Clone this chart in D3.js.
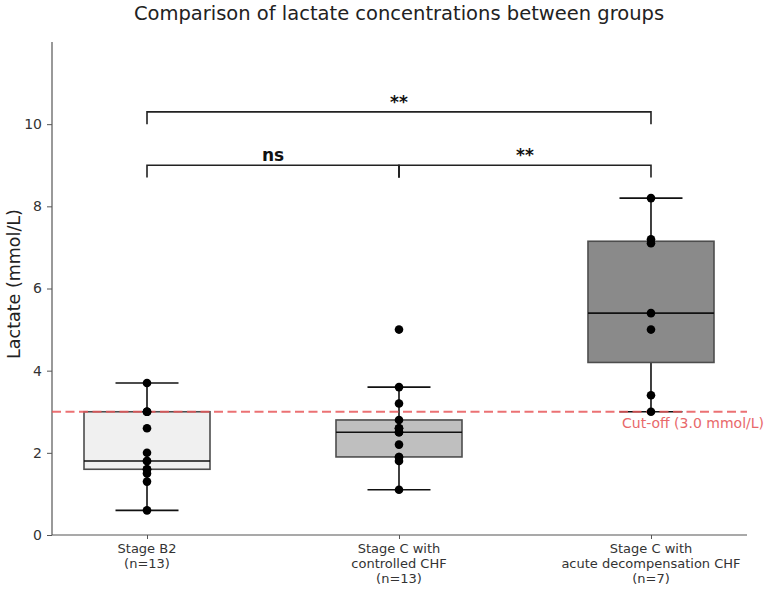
<!DOCTYPE html>
<html><head><meta charset="utf-8">
<script src="https://cdn.jsdelivr.net/npm/d3@7"></script>
<style>body{margin:0;background:#fff}svg{font-family:"DejaVu Sans",sans-serif}</style>
</head><body><svg id="c" width="767" height="590"></svg>
<script>
const categories = ["Stage B2", "Stage C with controlled CHF", "Stage C with acute decompensation CHF"];
const categoryLabels = [["Stage B2","(n=13)"],["Stage C with","controlled CHF","(n=13)"],["Stage C with","acute decompensation CHF","(n=7)"]];
const stageB2 = [0.6, 1.3, 1.5, 1.6, 1.6, 1.8, 1.8, 2.0, 2.6, 3.0, 3.0, 3.0, 3.7];
const stageCControlled = [1.1, 1.8, 1.9, 1.9, 2.2, 2.5, 2.5, 2.6, 2.6, 2.8, 3.2, 3.6, 5.0];
const stageCAcute = [3.0, 3.4, 5.0, 5.4, 7.1, 7.2, 8.2];
const boxColors = ["#f0f0f0", "#bfbfbf", "#8a8a8a"];
const yTicks = [0, 2, 4, 6, 8, 10];
const cutoff = 3.0;
const comparisons = [
  {from: 0, to: 1, y: 9.0, label: "ns", bold: true},
  {from: 1, to: 2, y: 9.0, label: "**", bold: false},
  {from: 0, to: 2, y: 10.3, label: "**", bold: false}
];

const groups = [stageB2, stageCControlled, stageCAcute];
const svg = d3.select("#c");
const x = d3.scaleLinear().domain([-0.377, 2.381]).range([52, 747]);
const y = d3.scaleLinear().domain([0, 12]).range([535, 42]);

// title
svg.append("text").attr("x", 399).attr("y", 20).attr("text-anchor", "middle")
  .attr("font-size", 19.5).attr("fill", "#222").text("Comparison of lactate concentrations between groups");

// axes
const yAxis = svg.append("g").attr("transform", "translate(52,0)")
  .call(d3.axisLeft(y).tickValues(yTicks).tickSize(5).tickPadding(5).tickFormat(d3.format("d")));
yAxis.select(".domain").attr("stroke", "#555").attr("stroke-width", 1.2).attr("d", `M0,${y(12)}V${y(0)}`);
yAxis.selectAll(".tick line").attr("stroke", "#555");
yAxis.selectAll(".tick text").attr("font-size", 14).attr("fill", "#333").attr("font-family", "DejaVu Sans");

const xAxis = svg.append("g").attr("transform", "translate(0,535)")
  .call(d3.axisBottom(x).tickValues([0, 1, 2]).tickSize(4).tickFormat(""));
xAxis.select(".domain").attr("stroke", "#555").attr("stroke-width", 1.2).attr("d", `M${x.range()[0]},0H${x.range()[1]}`);
xAxis.selectAll(".tick line").attr("stroke", "#555");
categoryLabels.forEach((lines, i) => {
  const t = svg.append("text").attr("x", x(i)).attr("y", 553).attr("text-anchor", "middle")
    .attr("font-size", 13).attr("fill", "#333");
  lines.forEach((l, j) => t.append("tspan").attr("x", x(i)).attr("dy", j === 0 ? 0 : 15).text(l));
});

svg.append("text").attr("transform", "translate(20,284) rotate(-90)").attr("text-anchor", "middle")
  .attr("font-size", 17.5).attr("fill", "#222").text("Lactate (mmol/L)");

// boxes
const boxHalf = 0.25, capHalf = 0.125;
groups.forEach((vals, i) => {
  const s = vals.slice().sort(d3.ascending);
  const q1 = d3.quantile(s, 0.25), med = d3.quantile(s, 0.5), q3 = d3.quantile(s, 0.75);
  const iqr = q3 - q1;
  const lo = d3.min(s.filter(v => v >= q1 - 1.5 * iqr));
  const hi = d3.max(s.filter(v => v <= q3 + 1.5 * iqr));
  const g = svg.append("g");
  g.append("line").attr("x1", x(i)).attr("x2", x(i)).attr("y1", y(q3)).attr("y2", y(hi)).attr("stroke", "#111").attr("stroke-width", 1.6);
  g.append("line").attr("x1", x(i)).attr("x2", x(i)).attr("y1", y(q1)).attr("y2", y(lo)).attr("stroke", "#111").attr("stroke-width", 1.6);
  g.append("line").attr("x1", x(i - capHalf)).attr("x2", x(i + capHalf)).attr("y1", y(hi)).attr("y2", y(hi)).attr("stroke", "#111").attr("stroke-width", 1.6);
  g.append("line").attr("x1", x(i - capHalf)).attr("x2", x(i + capHalf)).attr("y1", y(lo)).attr("y2", y(lo)).attr("stroke", "#111").attr("stroke-width", 1.6);
  g.append("rect").attr("x", x(i - boxHalf)).attr("width", x(i + boxHalf) - x(i - boxHalf))
    .attr("y", y(q3)).attr("height", y(q1) - y(q3)).attr("fill", boxColors[i]).attr("stroke", "#4d4d4d").attr("stroke-width", 1.6);
  g.append("line").attr("x1", x(i - boxHalf)).attr("x2", x(i + boxHalf)).attr("y1", y(med)).attr("y2", y(med)).attr("stroke", "#111").attr("stroke-width", 1.6);
});

// cutoff line
svg.append("line").attr("x1", x.range()[0]).attr("x2", x.range()[1]).attr("y1", y(cutoff)).attr("y2", y(cutoff))
  .attr("stroke", "#e8585a").attr("stroke-opacity", 0.85).attr("stroke-width", 2.2).attr("stroke-dasharray", "9,4.5");
svg.append("text").attr("x", 764).attr("y", y(cutoff) + 16).attr("text-anchor", "end")
  .attr("font-size", 14).attr("fill", "#e8686a").text("Cut-off (3.0 mmol/L)");

// points
groups.forEach((vals, i) => {
  svg.append("g").selectAll("circle").data(vals).join("circle")
    .attr("cx", x(i)).attr("cy", d => y(d)).attr("r", 4.3).attr("fill", "#000");
});

// significance brackets
comparisons.forEach(c => {
  const yy = y(c.y), yb = y(c.y - 0.3);
  svg.append("path").attr("d", `M${x(c.from)},${yb}V${yy}H${x(c.to)}V${yb}`)
    .attr("fill", "none").attr("stroke", "#222").attr("stroke-width", 1.6);
});
svg.append("line").attr("x1", x(1)).attr("x2", x(1)).attr("y1", y(9.0)).attr("y2", y(8.7)).attr("stroke", "#222").attr("stroke-width", 1.6);
comparisons.forEach(c => {
  svg.append("text").attr("x", x((c.from + c.to) / 2)).attr("y", y(c.y) - 4).attr("text-anchor", "middle")
    .attr("font-size", 17).attr("font-weight", "bold").attr("fill", "#111").text(c.label);
});
</script></body></html>
